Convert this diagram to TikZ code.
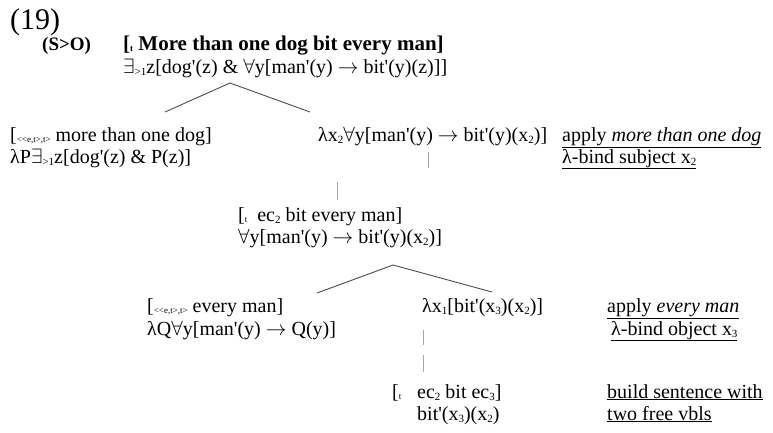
\documentclass[tikz,border=0pt]{standalone}
\usepackage{fontspec}
\setmainfont{Liberation Serif}[Ligatures=TeXOff]
\newcommand\lo[1]{\raisebox{-0.3ex}{\fontsize{11}{11}\selectfont #1}}
\newcommand\tn[1]{\raisebox{-0.2ex}{\fontsize{9}{9}\selectfont #1}}
\begin{document}
\begin{tikzpicture}[x=1pt,y=-1pt,
  lab/.style={anchor=base west, inner sep=0pt, font=\fontsize{20}{24}\selectfont},
  branch/.style={draw=black!70, line width=0.9pt},
  tick/.style={draw=black!35, line width=0.9pt}]
\useasboundingbox (0,0) rectangle (773,432);
% header
\node[lab, font=\fontsize{30}{30}\selectfont] (num) at (10,29) {(19)};
\node[lab, font=\fontsize{19}{19}\selectfont\bfseries] (so) at (42,50) {(S>O)};
\node[lab, font=\fontsize{21}{24}\selectfont\bfseries] (s1) at (123,50) {[\tn{t} More than one dog bit every man]};
\node[lab] (s2) at (123,73) {$\exists$\lo{>1}z[dog'(z) \& $\forall$y[man'(y) $\rightarrow$ bit'(y)(z)]]};
% tree 1
\coordinate (ap1) at (230,83);
\coordinate (l1) at (165,112);
\coordinate (r1) at (310,112);
\draw[branch] (l1) -- (ap1) -- (r1);
% row 3/4
\node[lab] (a1) at (10,141) {[\tn{<<e,t>,t>} more than one dog]};
\node[lab] (a2) at (10,163) {λP$\exists$\lo{>1}z[dog'(z) \& P(z)]};
\node[lab] (b1) at (318,141) {λx\lo{2}$\forall$y[man'(y) $\rightarrow$ bit'(y)(x\lo{2})]};
\node[lab] (c1) at (562,141) {\underline{apply \textit{more than one dog}}};
\node[lab] (c2) at (562,163) {\underline{λ-bind subject x\lo{2}}};
\coordinate (k1a) at (428,152);
\coordinate (k1b) at (428,168);
\draw[tick] (k1a) -- (k1b);
\coordinate (k2a) at (337,182);
\coordinate (k2b) at (337,200);
\draw[tick] (k2a) -- (k2b);
% row 5/6
\node[lab] (d1) at (238,221) {[\tn{t}\ \ ec\lo{2} bit every man]};
\node[lab] (d2) at (238,243) {$\forall$y[man'(y) $\rightarrow$ bit'(y)(x\lo{2})]};
% tree 2
\coordinate (ap2) at (393,265);
\coordinate (l2) at (317,293);
\coordinate (r2) at (492,292);
\draw[branch] (l2) -- (ap2) -- (r2);
% row 7/8
\node[lab] (e1) at (147,312) {[\tn{<<e,t>,t>} every man]};
\node[lab] (e2) at (147,335) {λQ$\forall$y[man'(y) $\rightarrow$ Q(y)]};
\node[lab] (f1) at (422,312) {λx\lo{1}[bit'(x\lo{3})(x\lo{2})]};
\node[lab] (g1) at (607,312) {\underline{apply \textit{every man}}};
\node[lab] (g2) at (611,335) {\underline{λ-bind object x\lo{3}}};
\coordinate (k3a) at (423,330);
\coordinate (k3b) at (423,345);
\draw[tick] (k3a) -- (k3b);
\coordinate (k4a) at (423,355);
\coordinate (k4b) at (423,372);
\draw[tick] (k4a) -- (k4b);
% row 9/10
\node[lab] (h0) at (392,398) {[\tn{t}};
\node[lab] (h1) at (417,398) {ec\lo{2} bit ec\lo{3}]};
\node[lab] (h2) at (417,420) {bit'(x\lo{3})(x\lo{2})};
\node[lab] (i1) at (607,398) {\underline{build sentence with}};
\node[lab] (i2) at (607,420) {\underline{two free vbls}};
\end{tikzpicture}
\end{document}
